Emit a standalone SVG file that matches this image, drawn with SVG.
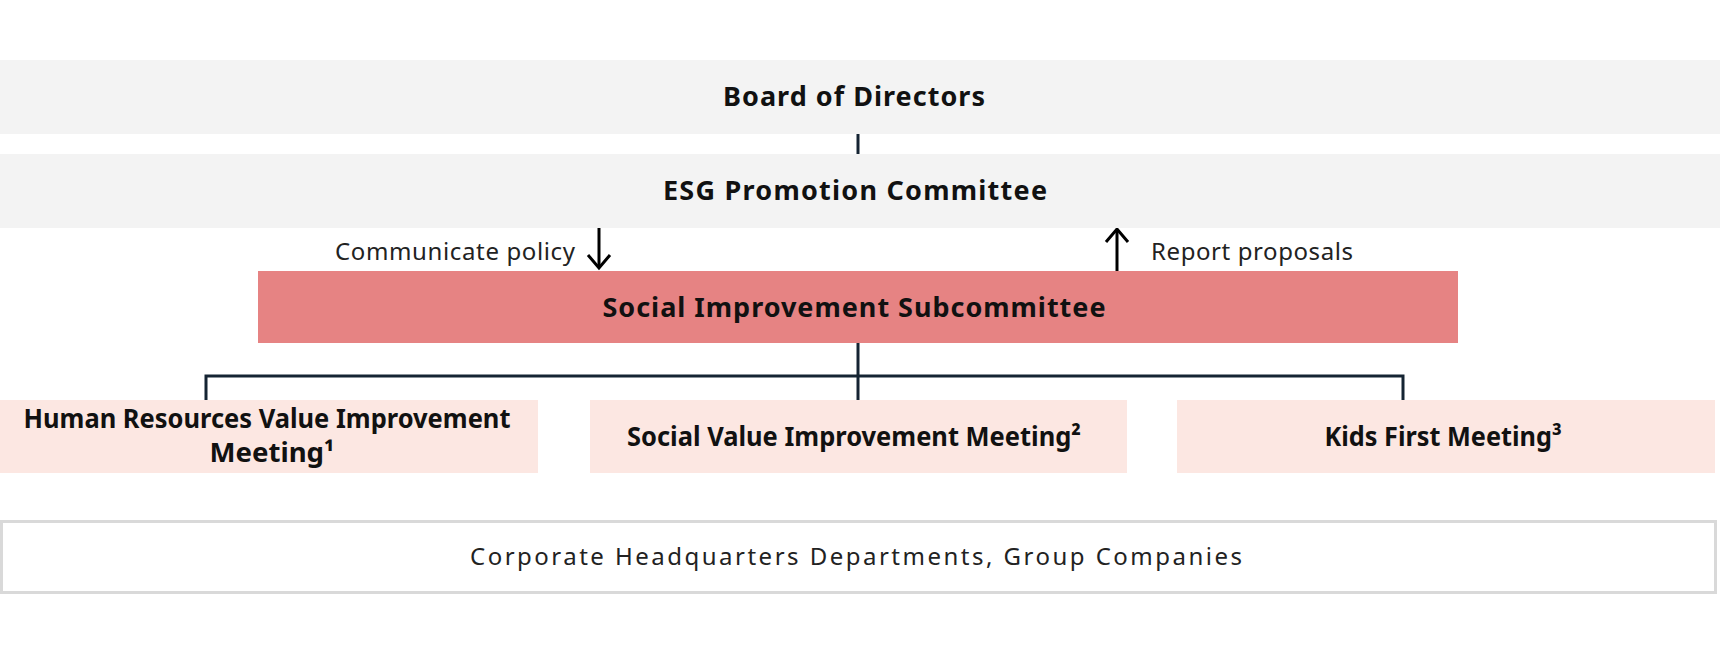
<svg xmlns="http://www.w3.org/2000/svg" width="1720" height="660" viewBox="0 0 1720 660">
<style>
.gray{fill:#F3F3F3}
.sub{fill:#E68383}
.meet{fill:#FCE7E2}
.b{font-family:"Noto Sans","Liberation Sans",sans-serif;font-weight:bold;font-size:27px;fill:#111;text-anchor:middle}
.r{font-family:"Noto Sans","Liberation Sans",sans-serif;font-size:24px;fill:#222}
.conn{stroke:#152433;stroke-width:3;fill:none}
.arr{stroke:#000;stroke-width:3;fill:none}
</style>
<rect width="1720" height="660" fill="#fff"/>
<g id="connectors">
<line class="conn" x1="858" y1="134" x2="858" y2="154"/>
<line class="conn" x1="858" y1="343" x2="858" y2="400"/>
<polyline class="conn" points="206,400 206,376 1403,376 1403,400"/>
<line class="arr" x1="599" y1="227" x2="599" y2="268"/>
<polyline class="arr" points="588,255 599,268 610,255"/>
<line class="arr" x1="1117" y1="271" x2="1117" y2="229"/>
<polyline class="arr" points="1106,242 1117,229 1128,242"/>
<text class="r" x="335" y="260" textLength="240" lengthAdjust="spacing">Communicate policy</text>
<text class="r" x="1151" y="260" textLength="202" lengthAdjust="spacing">Report proposals</text>
</g>
<g id="board">
<rect class="gray" x="0" y="60" width="1720" height="74"/>
<text class="b" x="854" y="106" textLength="262" lengthAdjust="spacing">Board of Directors</text>
</g>
<g id="esg">
<rect class="gray" x="0" y="154" width="1720" height="74"/>
<text class="b" x="855" y="200" textLength="384" lengthAdjust="spacing">ESG Promotion Committee</text>
</g>
<g id="subcommittee">
<rect class="sub" x="258" y="271" width="1200" height="72"/>
<text class="b" x="854" y="317" textLength="503" lengthAdjust="spacing">Social Improvement Subcommittee</text>
</g>
<g id="hr">
<rect class="meet" x="0" y="400" width="538" height="73"/>
<text class="b" font-size="25"><tspan x="267" y="428" textLength="487" lengthAdjust="spacingAndGlyphs">Human Resources Value Improvement</tspan><tspan x="272" y="462" textLength="125" lengthAdjust="spacingAndGlyphs">Meeting¹</tspan></text>
</g>
<g id="social-value">
<rect class="meet" x="590" y="400" width="537" height="73"/>
<text class="b" x="854" y="446" textLength="454" lengthAdjust="spacingAndGlyphs">Social Value Improvement Meeting²</text>
</g>
<g id="kids">
<rect class="meet" x="1177" y="400" width="538" height="73"/>
<text class="b" x="1443" y="446" textLength="237" lengthAdjust="spacingAndGlyphs">Kids First Meeting³</text>
</g>
<g id="corporate">
<rect x="1.5" y="521.5" width="1714" height="71" fill="#fff" stroke="#D9D9D9" stroke-width="3"/>
<text class="r" x="856" y="565" text-anchor="middle" font-size="27" textLength="772" lengthAdjust="spacing">Corporate Headquarters Departments, Group Companies</text>
</g>
</svg>
